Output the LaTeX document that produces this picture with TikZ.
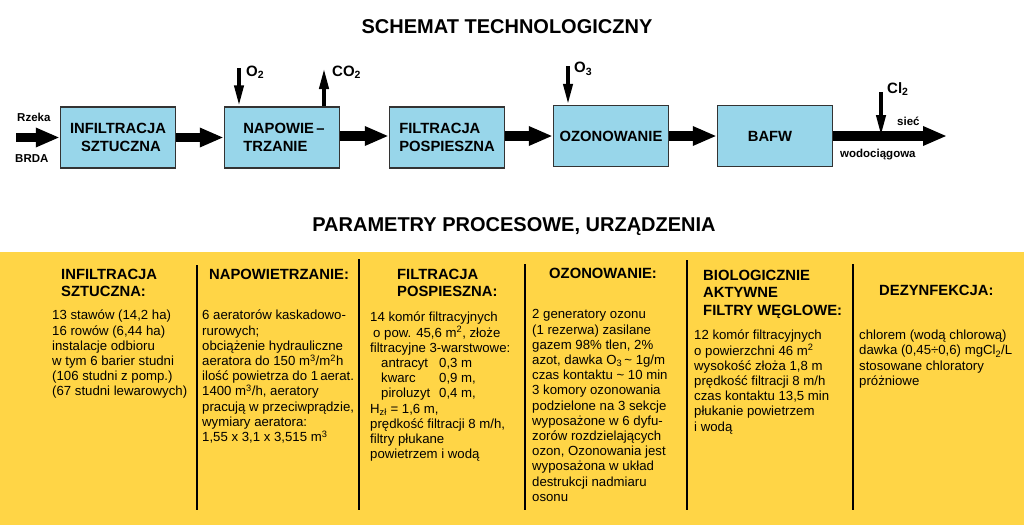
\documentclass[tikz,border=0pt]{standalone}
\usepackage{fontspec}
\setmainfont{Liberation Sans}
\usetikzlibrary{arrows.meta,positioning}
\definecolor{boxblue}{HTML}{98D6EA}
\definecolor{panelyellow}{HTML}{FFD546}
\newcommand{\sub}[1]{\textsubscript{#1}}
\newcommand{\supr}[1]{\textsuperscript{#1}}
\tikzset{
    procbox/.style={draw=black!80,line width=1.5pt,fill=boxblue,minimum width=115pt,minimum height=61pt,
        inner sep=0pt,align=left,font=\bfseries\fontsize{14.8}{18.5}\selectfont},
    flow/.style={line width=9.5pt,-{Triangle[length=24pt,width=18pt]}},
    dose/.style={line width=4pt,-{Triangle[length=21pt,width=9pt]}},
    gas/.style={inner sep=0pt,anchor=west,font=\bfseries\fontsize{15}{16}\selectfont},
    tag/.style={inner sep=0pt,anchor=west,font=\bfseries\fontsize{11.5}{13}\selectfont},
    bigtitle/.style={inner sep=0pt,font=\bfseries\fontsize{20}{22}\selectfont},
    head/.style={inner sep=0pt,anchor=north west,align=left,font=\bfseries\fontsize{14.8}{17.7}\selectfont},
    body/.style={inner sep=0pt,anchor=north west,align=left,font=\fontsize{13.2}{15.2}\selectfont},
    divider/.style={line width=2pt}
}
\begin{document}
\begin{tikzpicture}[x=1pt,y=-1pt]
    \path[use as bounding box,fill=white] (0,0) rectangle (1024,525);
    \fill[panelyellow] (0,252) rectangle (1024,525);

    \node[bigtitle] (title) at (507,27) {SCHEMAT TECHNOLOGICZNY};
    \node[bigtitle] (params) at (514,227) {PARAMETRY PROCESOWE, URZĄDZENIA};

    \node[procbox] (infil) at (118,137.5) {INFILTRACJA\\\hspace*{11pt}SZTUCZNA};
    \node[procbox] (napow) at (282,137.5) {\hspace*{4pt}NAPOWIE\,–\\\hspace*{4pt}TRZANIE};
    \node[procbox] (filtr) at (447,137.5) {FILTRACJA\\POSPIESZNA};
    \node[procbox] (ozon) at (611,136) {OZONOWANIE};
    \node[procbox] (bafw) at (775,136) {BAFW\hspace*{10pt}};

    \coordinate (inlet) at (16,137.5);
    \coordinate (outlet) at (947,136);
    \coordinate (otwo) at (239,68);
    \coordinate (cotwo) at (324,68);
    \coordinate (othree) at (568,66);
    \coordinate (cltop) at (881,92);
    \coordinate (clend) at (881,136);

    \draw[flow] (inlet) -- (infil.west);
    \draw[flow] (infil.east) -- (napow.west);
    \draw[flow] ([yshift=1.5pt]napow.east) -- ([yshift=1.5pt]filtr.west);
    \draw[flow] (ozon.west -| filtr.east) -- (ozon.west);
    \draw[flow] (ozon.east) -- (bafw.west);
    \draw[flow] (bafw.east) -- (outlet);

    \draw[dose] (otwo) -- (otwo |- napow.north);
    \draw[dose] (cotwo |- napow.north) -- (cotwo);
    \draw[dose] (othree) -- (othree |- ozon.north);
    \draw[dose] (cltop) -- (clend);

    \node[gas] (otwolab) at (246,72) {O\sub{2}};
    \node[gas] (cotwolab) at (332,72) {CO\sub{2}};
    \node[gas] (othreelab) at (574,69) {O\sub{3}};
    \node[gas] (cllab) at (887,89) {Cl\sub{2}};
    \node[tag] (rzeka) at (17,117) {Rzeka};
    \node[tag] (brda) at (15,159) {BRDA};
    \node[tag] (siec) at (897,121) {sieć};
    \node[tag] (wodoc) at (840,155) {wodociągowa};

    \draw[divider] (197,265) -- (197,510);
    \draw[divider] (359,259) -- (359,510);
    \draw[divider] (525,264) -- (525,510);
    \draw[divider] (687,260) -- (687,510);
    \draw[divider] (853,264) -- (853,510);

    \node[head] (heada) at (61,268.5) {INFILTRACJA\\SZTUCZNA:};
    \node[head] (headb) at (209,268.5) {NAPOWIETRZANIE:};
    \node[head] (headc) at (397,268.5) {FILTRACJA\\POSPIESZNA:};
    \node[head] (headd) at (549,267.5) {OZONOWANIE:};
    \node[head] (heade) at (703,269.5) {BIOLOGICZNIE\\AKTYWNE\\FILTRY WĘGLOWE:};
    \node[head] (headf) at (879,284.5) {DEZYNFEKCJA:};

    \node[body] (texta) at (52,310) {13 stawów (14,2 ha)\\16 rowów (6,44 ha)\\instalacje odbioru\\w tym 6 barier studni\\(106 studni z pomp.)\\(67 studni lewarowych)};
    \node[body] (textb) at (202,310) {6 aeratorów kaskadowo-\\rurowych;\\obciążenie hydrauliczne\\aeratora do 150 m\supr{3}/m\supr{2}h\\ilość powietrza do 1\,aerat.\\1400 m\supr{3}/h, aeratory\\pracują w przeciwprądzie,\\wymiary aeratora:\\1,55 x 3,1 x 3,515 m\supr{3}};
    \node[body] (textc) at (370,312) {14 komór filtracyjnych\\\hspace*{3pt}o pow. 45,6 m\supr{2}, złoże\\filtracyjne 3-warstwowe:\\\hspace*{11pt}\makebox[58pt][l]{antracyt}0,3 m\\\hspace*{11pt}\makebox[58pt][l]{kwarc}0,9 m,\\\hspace*{11pt}\makebox[58pt][l]{piroluzyt}0,4 m,\\H\sub{zł} = 1,6 m,\\prędkość filtracji 8 m/h,\\filtry płukane\\powietrzem i wodą};
    \node[body] (textd) at (532,309.5) {2 generatory ozonu\\(1 rezerwa) zasilane\\gazem 98\% tlen, 2\%\\azot, dawka O\sub{3}\,\textasciitilde\ 1g/m\\czas kontaktu \textasciitilde\ 10 min\\3 komory ozonowania\\podzielone na 3 sekcje\\wyposażone w 6 dyfu-\\zorów rozdzielających\\ozon, Ozonowania jest\\wyposażona w układ\\destrukcji nadmiaru\\osonu};
    \node[body] (texte) at (694,330) {12 komór filtracyjnych\\o powierzchni 46 m\supr{2}\\wysokość złoża 1,8 m\\prędkość filtracji 8 m/h\\czas kontaktu 13,5 min\\płukanie powietrzem\\i wodą};
    \node[body] (textf) at (859,330) {chlorem (wodą chlorową)\\dawka (0,45÷0,6) mgCl\sub{2}/L\\stosowane chloratory\\próżniowe};
\end{tikzpicture}
\end{document}
